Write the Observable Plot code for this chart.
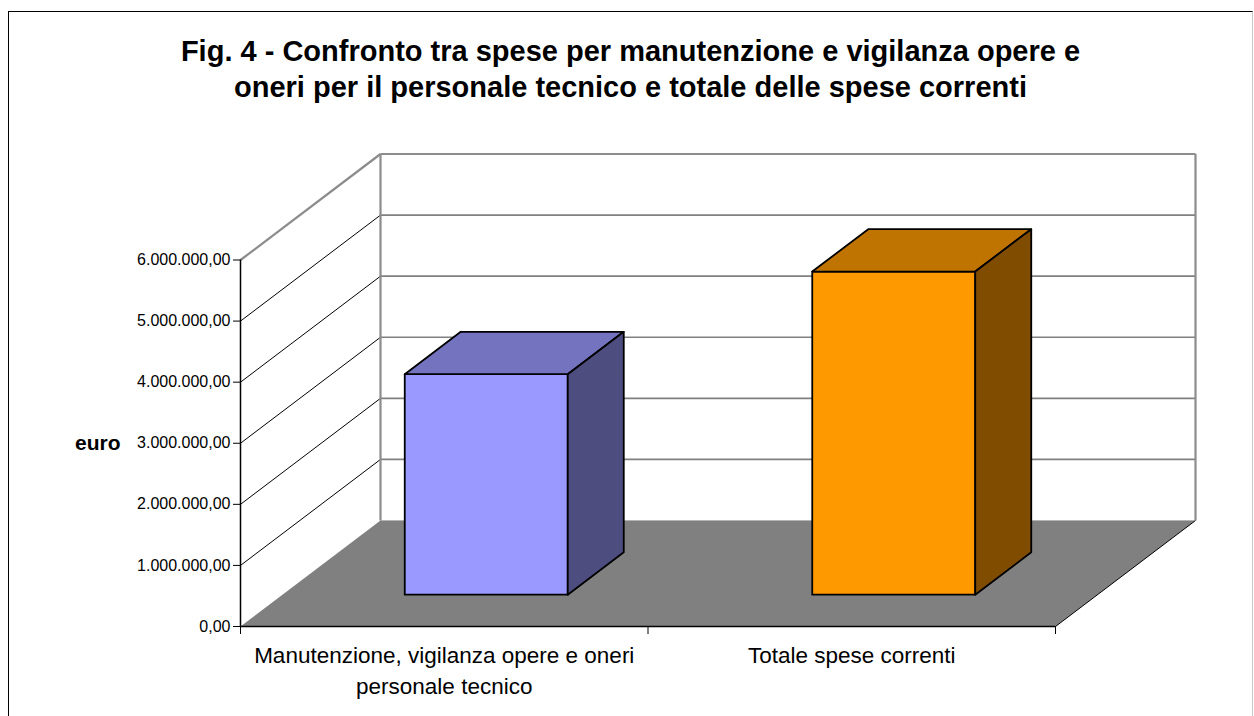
<!DOCTYPE html>
<html>
<head>
<meta charset="utf-8">
<script src="https://cdn.jsdelivr.net/npm/d3@7"></script>
<script src="https://cdn.jsdelivr.net/npm/@observablehq/plot@0.6"></script>
<style>
  html, body { margin: 0; padding: 0; background: #fff; }
  #wrap { position: relative; width: 1254px; height: 716px; overflow: hidden; background: #fff; }
  #frame { position: absolute; left: 8px; top: 11px; width: 1243px; height: 720px;
           border-left: 1px solid #000; border-top: 1px solid #000; border-right: 1px solid #c8c8c8; }
  #title { position: absolute; left: 8px; top: 33px; width: 1245px; text-align: center;
           font: bold 29px/36px "Liberation Sans", Arial, sans-serif; color: #000; }
  #chart { position: absolute; left: 0; top: 130px; }
  #chart svg g.ytl text { font-size: 16px; }
</style>
</head>
<body>
<div id="wrap">
  <div id="frame"></div>
  <div id="title">Fig. 4 - Confronto tra spese per manutenzione e vigilanza opere e<br>oneri per il personale tecnico e totale delle spese correnti</div>
  <div id="chart"></div>
</div>
<script>
// ---- data ----
const categories = ["Manutenzione, vigilanza opere e oneri\npersonale tecnico", "Totale spese correnti"];
const values = [3610000, 5290000];
const yTicks = [0, 1000000, 2000000, 3000000, 4000000, 5000000, 6000000];
const yTickLabels = ["0,00", "1.000.000,00", "2.000.000,00", "3.000.000,00", "4.000.000,00", "5.000.000,00", "6.000.000,00"];
const yTitle = "euro";

// ---- styles / geometry ----
const barColors = [
  {front: "#9999FF", top: "#7373BF", side: "#4D4D80"},
  {front: "#FF9900", top: "#BF7300", side: "#804D00"}
];
const yMax = yTicks[yTicks.length - 1];
const nCat = categories.length;
// oblique depth offset expressed in data units (depth 0 = front, 1 = back wall)
const DEPTH_X = 140 / 407.5;
const DEPTH_Y = 106 * yMax / 366.5;
const P = (x, v, d) => ({x: x + d * DEPTH_X, y: v + d * DEPTH_Y});

function poly(id, pts) { return pts.map(p => ({...p, id})); }

const floor = poly("floor", [P(0, 0, 0), P(nCat, 0, 0), P(nCat, 0, 1), P(0, 0, 1)]);

const barFaces = {front: [], top: [], side: []};
values.forEach((v, i) => {
  const xl = i + 0.3, xr = i + 0.7, d0 = 0.3, d1 = 0.7;
  barFaces.front.push({i, pts: poly("f" + i, [P(xl, 0, d0), P(xr, 0, d0), P(xr, v, d0), P(xl, v, d0)])});
  barFaces.top.push({i, pts: poly("t" + i, [P(xl, v, d0), P(xr, v, d0), P(xr, v, d1), P(xl, v, d1)])});
  barFaces.side.push({i, pts: poly("s" + i, [P(xr, 0, d0), P(xr, 0, d1), P(xr, v, d1), P(xr, v, d0)])});
});

const inner = yTicks.filter(t => t > 0 && t < yMax);
const backGrid = inner.map(t => ({a: P(0, t, 1), b: P(nCat, t, 1)}));
const leftDiag = inner.map(t => ({a: P(0, t, 0), b: P(0, t, 1)}));
const frameLines = [
  {a: P(0, yMax, 0), b: P(0, yMax, 1)},
  {a: P(0, yMax, 1), b: P(nCat, yMax, 1)},
  {a: P(0, 0, 1), b: P(0, yMax, 1)},
  {a: P(nCat, 0, 1), b: P(nCat, yMax, 1)}
];
const linkOpts = {x1: d => d.a.x, y1: d => d.a.y, x2: d => d.b.x, y2: d => d.b.y};

const marks = [
  Plot.link(backGrid, {...linkOpts, stroke: "#808080", strokeWidth: 1.6}),
  Plot.link(leftDiag, {...linkOpts, stroke: "#000", strokeWidth: 1}),
  Plot.line(floor, {x: "x", y: "y", z: "id", fill: "#808080", stroke: "none", curve: "linear-closed"}),
  Plot.link([{a: P(0, 0, 1), b: P(nCat, 0, 1)}], {...linkOpts, stroke: "#b4b4b4", strokeWidth: 1.2}),
  Plot.link([{a: P(nCat, 0, 0), b: P(nCat, 0, 1)}], {...linkOpts, stroke: "#000", strokeWidth: 1}),
  Plot.link(frameLines, {...linkOpts, stroke: "#8c8c8c", strokeWidth: 2.2})
];
["front", "top", "side"].forEach(face => {
  barFaces[face].forEach(({i, pts}) => {
    marks.push(Plot.line(pts, {x: "x", y: "y", z: "id", fill: barColors[i][face], stroke: "#000",
      strokeWidth: 1.8, strokeLinejoin: "round", curve: "linear-closed"}));
  });
});
marks.push(
  Plot.ruleX([0], {y1: 0, y2: yMax, stroke: "#000", strokeWidth: 1.5}),
  Plot.ruleY([0], {x1: 0, x2: nCat, stroke: "#000", strokeWidth: 1.5}),
  Plot.axisY({ticks: yTicks, tickFormat: () => "", tickSize: 7, label: null, stroke: "#000"}),
  Plot.text(yTicks, {x: () => 0, y: d => d, text: (d, i) => yTickLabels[i], dx: -10, textAnchor: "end",
    fontSize: 16, fill: "#000", className: "ytl"}),
  Plot.axisX({ticks: d3.range(nCat + 1), tickFormat: () => "", tickSize: 8, label: null, stroke: "#000"}),
  Plot.text(categories, {x: (d, i) => i + 0.5, y: () => 0, text: d => d, lineAnchor: "top", dy: 15,
    fontSize: 22.5, lineHeight: 1.36, fill: "#000"}),
  Plot.text([yTitle], {x: () => 0, y: () => yMax / 2, text: d => d, dx: -120, textAnchor: "end",
    fontWeight: "bold", fontSize: 21, fill: "#000"})
);

const chart = Plot.plot({
  width: 1254,
  height: 586,
  marginLeft: 240,
  marginRight: 199,
  marginTop: 129.5,
  marginBottom: 90,
  x: {type: "linear", domain: [0, nCat]},
  y: {type: "linear", domain: [0, yMax]},
  style: {fontFamily: "'Liberation Sans', Arial, sans-serif", fontSize: "15px", background: "transparent", overflow: "visible", color: "#000"},
  marks
});
document.getElementById("chart").appendChild(chart);
</script>
</body>
</html>
